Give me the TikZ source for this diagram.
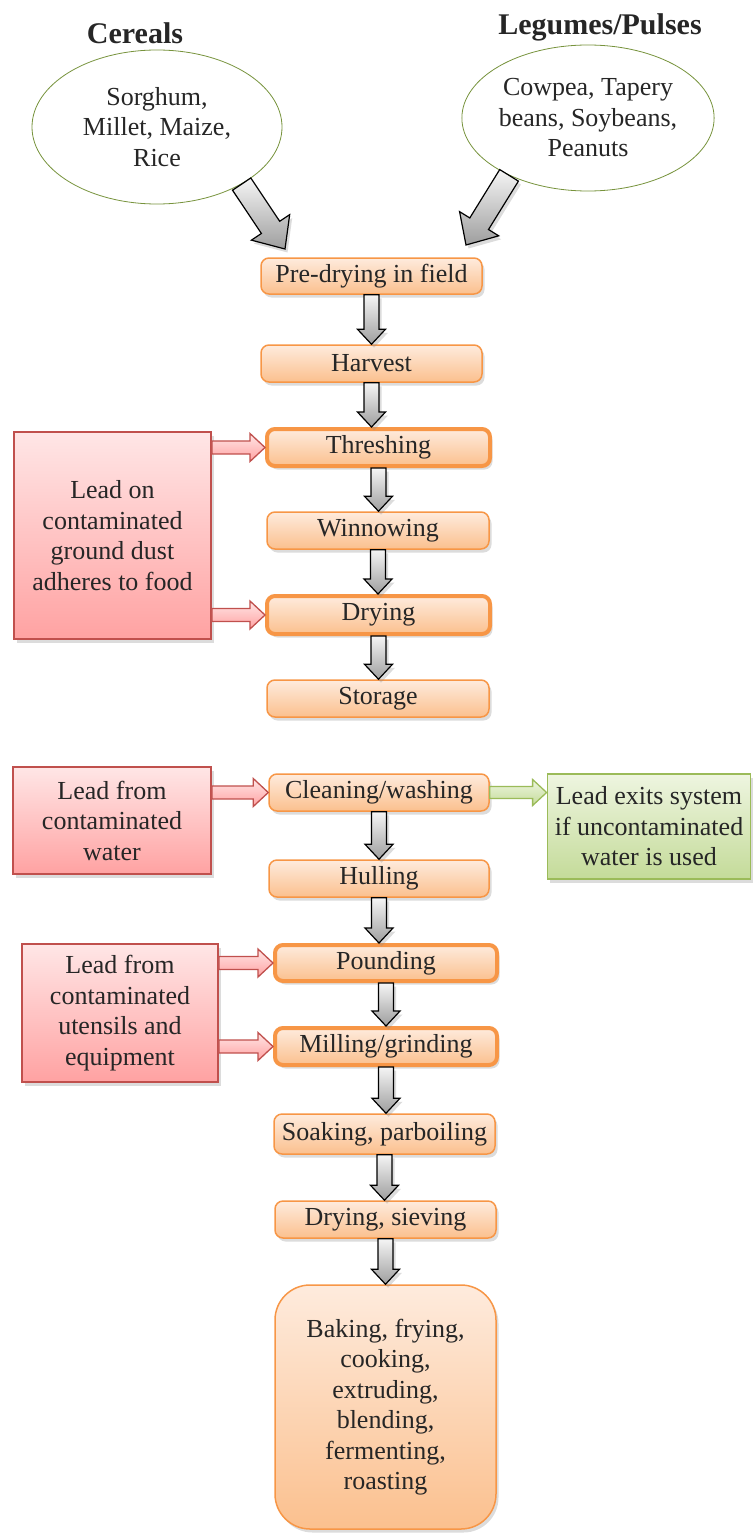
\documentclass[tikz,border=0pt]{standalone}
\usepackage{fontspec}
\setmainfont{Liberation Serif}
\usetikzlibrary{calc,shadows,shapes.geometric}
\definecolor{orbrd}{HTML}{F79646}
\definecolor{ortop}{HTML}{FEEBDD}
\definecolor{orbot}{HTML}{FBC08E}
\definecolor{rdbrd}{HTML}{C0504D}
\definecolor{rdtop}{HTML}{FFE6E6}
\definecolor{rdbot}{HTML}{FFA2A2}
\definecolor{grbrd}{HTML}{9BBB59}
\definecolor{grtop}{HTML}{EEF5E0}
\definecolor{grbot}{HTML}{C4DB99}
\definecolor{olv}{HTML}{77933C}
\definecolor{txt}{HTML}{262626}
\newcommand\fatarr[6]{%
  \coordinate (faA) at (#2);
  \coordinate (faB) at (#3);
  \coordinate (faN) at ($(faB)!#6!(faA)$);
  \path[#1] ($(faA)!#4!90:(faB)$) -- ($(faN)!#4!-90:(faA)$) -- ($(faN)!#5!-90:(faA)$) -- (faB)
    -- ($(faN)!#5!90:(faA)$) -- ($(faN)!#4!90:(faA)$) -- ($(faA)!#4!-90:(faB)$) -- cycle;
}
\tikzset{
  shad/.style={drop shadow={shadow xshift=2.5pt,shadow yshift=-3.5pt,opacity=.3,fill=black!45}},
  ttl/.style={font=\fontsize{30}{36}\selectfont\bfseries, inner sep=0pt},
  ell/.style={ellipse, draw=olv, line width=0.8pt, fill=white, inner sep=0pt, align=center},
  box/.style={draw=orbrd, line width=1.5pt, rounded corners=8pt, top color=ortop, bottom color=orbot,
     inner sep=0pt, align=center, shad},
  tbox/.style={box, line width=4pt},
  rbox/.style={draw=rdbrd, line width=1.8pt, top color=rdtop, bottom color=rdbot, inner sep=0pt, align=center, shad},
  gbox/.style={draw=grbrd, line width=1.8pt, top color=grtop, bottom color=grbot, inner sep=0pt, align=center, shad},
  garr/.style={draw=black, line width=1.2pt, top color=black!4, bottom color=black!38, shad},
  rarr/.style={draw=rdbrd, line width=1.3pt, top color=rdtop, bottom color=rdbot},
  grarr/.style={draw=grbrd, line width=1.3pt, top color=grtop, bottom color=grbot},
}
\begin{document}
\begin{tikzpicture}[x=1pt,y=-1pt, text=txt, font=\fontsize{26}{30.5}\selectfont]
\useasboundingbox (0,0) rectangle (752,1533);
% titles and sources
\node[ttl] (ttlc) at (135,33) {Cereals};
\node[ttl] (ttll) at (600,27) {Legumes/Pulses};
\node[ell, minimum width=250pt, minimum height=154pt] (cer) at (157,127) {Sorghum,\\Millet, Maize,\\Rice};
\node[ell, minimum width=250pt, minimum height=146pt] (leg) at (588,118) {Cowpea, Tapery\\beans, Soybeans,\\Peanuts};
\coordinate (t1) at (285,249);
\coordinate (t2) at (466,245);
\fatarr{garr}{cer.-34}{t1}{11pt}{23pt}{26pt}
\fatarr{garr}{leg.-144}{t2}{11pt}{23pt}{25pt}
% main chain
\node[box, minimum width=221pt, minimum height=36pt] (pre) at (371.5,276) {Pre-drying in field};
\node[box, minimum width=221pt, minimum height=37pt] (harv) at (371.5,363.5) {Harvest};
\node[tbox, minimum width=223pt, minimum height=37pt] (thr) at (378.5,447.5) {Threshing};
\node[box, minimum width=222pt, minimum height=37pt] (win) at (378,530.5) {Winnowing};
\node[tbox, minimum width=223pt, minimum height=38pt] (dry) at (378.5,615) {Drying};
\node[box, minimum width=222pt, minimum height=37pt] (sto) at (378,698.5) {Storage};
\node[box, minimum width=220pt, minimum height=37pt] (cle) at (379,792.5) {Cleaning/washing};
\node[box, minimum width=220pt, minimum height=37pt] (hul) at (379,878.5) {Hulling};
\node[tbox, minimum width=222pt, minimum height=36pt] (pou) at (386,963) {Pounding};
\node[tbox, minimum width=222pt, minimum height=37pt] (mil) at (386,1046.5) {Milling/grinding};
\node[box, minimum width=221pt, minimum height=40pt] (soa) at (384.5,1134) {Soaking, parboiling};
\node[box, minimum width=221pt, minimum height=37pt] (drs) at (385.5,1219.5) {Drying, sieving};
\node[box, rounded corners=35pt, minimum width=221pt, minimum height=244pt] (fin) at (385.5,1407)
  {Baking, frying,\\cooking,\\extruding,\\blending,\\fermenting,\\roasting};
% side boxes
\node[rbox, minimum width=197pt, minimum height=207pt] (red1) at (112.5,535.5) {Lead on\\contaminated\\ground dust\\adheres to food};
\node[rbox, minimum width=198pt, minimum height=107pt] (red2) at (112,820.5) {Lead from\\contaminated\\water};
\node[rbox, minimum width=196pt, minimum height=138pt] (red3) at (120,1013) {Lead from\\contaminated\\utensils and\\equipment};
\node[gbox, minimum width=203pt, minimum height=105pt] (grn) at (649,826.5) {Lead exits system\\if uncontaminated\\water is used};
% chain arrows
\fatarr{garr}{pre.south}{harv.north -| pre.south}{7.5pt}{14pt}{15pt}
\fatarr{garr}{harv.south}{thr.north -| harv.south}{7.5pt}{14pt}{15pt}
\fatarr{garr}{thr.south}{win.north -| thr.south}{7.5pt}{14pt}{15pt}
\fatarr{garr}{win.south}{dry.north -| win.south}{7.5pt}{14pt}{15pt}
\fatarr{garr}{dry.south}{sto.north -| dry.south}{7.5pt}{14pt}{15pt}
\fatarr{garr}{cle.south}{hul.north -| cle.south}{7.5pt}{14pt}{15pt}
\fatarr{garr}{hul.south}{pou.north -| hul.south}{7.5pt}{14pt}{15pt}
\fatarr{garr}{pou.south}{mil.north -| pou.south}{7.5pt}{14pt}{15pt}
\fatarr{garr}{mil.south}{soa.north -| mil.south}{7.5pt}{14pt}{15pt}
\fatarr{garr}{soa.south}{drs.north -| soa.south}{7.5pt}{14pt}{15pt}
\fatarr{garr}{drs.south}{fin.north -| drs.south}{7.5pt}{14pt}{15pt}
% lead arrows
\fatarr{rarr}{red1.east |- thr.west}{thr.west}{6.5pt}{14pt}{15pt}
\fatarr{rarr}{red1.east |- dry.west}{dry.west}{6.5pt}{14pt}{15pt}
\fatarr{rarr}{red2.east |- cle.west}{cle.west}{6.5pt}{14pt}{15pt}
\fatarr{rarr}{red3.east |- pou.west}{pou.west}{6.5pt}{14pt}{15pt}
\fatarr{rarr}{red3.east |- mil.west}{mil.west}{6.5pt}{14pt}{15pt}
\fatarr{grarr}{cle.east}{grn.west |- cle.east}{6pt}{13pt}{14pt}
\end{tikzpicture}
\end{document}
